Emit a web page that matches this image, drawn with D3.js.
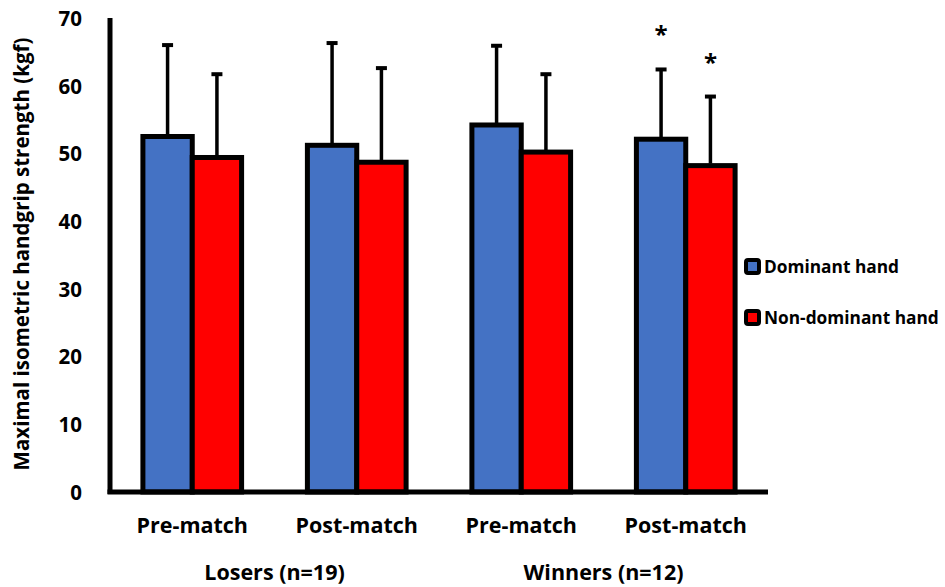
<!DOCTYPE html>
<html><head><meta charset="utf-8">
<script src="https://cdn.jsdelivr.net/npm/d3@7"></script>
<style>
body{margin:0;background:#fff;}
text{font-family:"Open Sans",sans-serif;font-weight:bold;fill:#000;}
</style></head>
<body><svg id="c" width="945" height="587"></svg>
<script>
const categories = ["Pre-match","Post-match","Pre-match","Post-match"];
const groups = ["Losers (n=19)","Winners (n=12)"];
const groupOf = [0,0,1,1];
const seriesNames = ["Dominant hand","Non-dominant hand"];
const seriesColors = ["#4472C4","#FF0000"];
const dominant = [52.5, 51.2, 54.2, 52.1];
const nonDominant = [49.4, 48.7, 50.2, 48.2];
const dominantSD = [13.5, 15.1, 11.7, 10.3];
const nonDominantSD = [12.3, 13.9, 11.5, 10.2];
const dominantSig = [false,false,false,true];
const nonDominantSig = [false,false,false,true];
const yTicks = [0,10,20,30,40,50,60,70];

const svg = d3.select("#c");
const y = d3.scaleLinear().domain([0,70]).range([492,18]);
const x = d3.scaleBand().domain(d3.range(categories.length)).range([110,768]).paddingInner(0.4).paddingOuter(0.2);
const xs = d3.scaleBand().domain([0,1]).range([0,x.bandwidth()]);

const series = [
  {vals:dominant, sd:dominantSD, sig:dominantSig},
  {vals:nonDominant, sd:nonDominantSD, sig:nonDominantSig}
];

// bars
series.forEach((s,si)=>{
  const g = svg.append("g");
  g.selectAll("rect").data(s.vals).join("rect")
    .attr("x",(d,i)=>x(i)+xs(si))
    .attr("y",d=>y(d))
    .attr("width",xs.bandwidth())
    .attr("height",d=>y(0)-y(d))
    .attr("fill",seriesColors[si])
    .attr("stroke","#000").attr("stroke-width",5);
});
// error bars
series.forEach((s,si)=>{
  const g = svg.append("g");
  s.vals.forEach((v,i)=>{
    const cx = x(i)+xs(si)+xs.bandwidth()/2;
    g.append("line").attr("x1",cx).attr("x2",cx).attr("y1",y(v)-2).attr("y2",y(v+s.sd[i]))
      .attr("stroke","#000").attr("stroke-width",3.5);
    g.append("line").attr("x1",cx-5.5).attr("x2",cx+5.5).attr("y1",y(v+s.sd[i])).attr("y2",y(v+s.sd[i]))
      .attr("stroke","#000").attr("stroke-width",4);
    if(s.sig[i]){
      g.append("text").attr("x",cx).attr("y",y(v+s.sd[i])-26)
        .attr("text-anchor","middle").attr("font-size",24).text("*");
    }
  });
});

// axes
const yAxis = svg.append("g").attr("transform","translate(110,0)")
  .call(d3.axisLeft(y).tickValues(yTicks).tickSize(0).tickPadding(28));
yAxis.select(".domain").remove();
yAxis.selectAll("text").attr("font-size",20.5).attr("font-family","Open Sans").attr("font-weight","bold").attr("dy","0.36em");
svg.append("line").attr("x1",110).attr("x2",110).attr("y1",y(70)).attr("y2",y(0)+2)
  .attr("stroke","#000").attr("stroke-width",5);
const xAxis = svg.append("g").attr("transform",`translate(0,${y(0)})`)
  .call(d3.axisBottom(x).tickSize(0).tickFormat(i=>categories[i]));
xAxis.select(".domain").remove();
xAxis.selectAll("text").attr("y",41).attr("dy",0).attr("font-size",21.5).attr("font-family","Open Sans").attr("font-weight","bold");
svg.append("line").attr("x1",107.5).attr("x2",768).attr("y1",y(0)).attr("y2",y(0))
  .attr("stroke","#000").attr("stroke-width",5);

// group labels
groups.forEach((gname,gi)=>{
  const idx = d3.range(categories.length).filter(i=>groupOf[i]===gi);
  const cx = d3.mean(idx,i=>x(i)+x.bandwidth()/2);
  svg.append("text").attr("x",cx).attr("y",580).attr("text-anchor","middle").attr("font-size",21.5).text(gname);
});

// y title
svg.append("text").attr("transform","translate(29,254) rotate(-90)").attr("text-anchor","middle")
  .attr("font-size",20.5).text("Maximal isometric handgrip strength (kgf)");

// legend
seriesNames.forEach((n,i)=>{
  const ly = 267 + i*51;
  svg.append("rect").attr("x",746).attr("y",ly-7).attr("width",13).attr("height",13)
    .attr("fill",seriesColors[i]).attr("stroke","#000").attr("stroke-width",4).attr("rx",2);
  svg.append("text").attr("x",764).attr("y",ly+6).attr("font-size",17.3).text(n);
});
</script></body></html>
